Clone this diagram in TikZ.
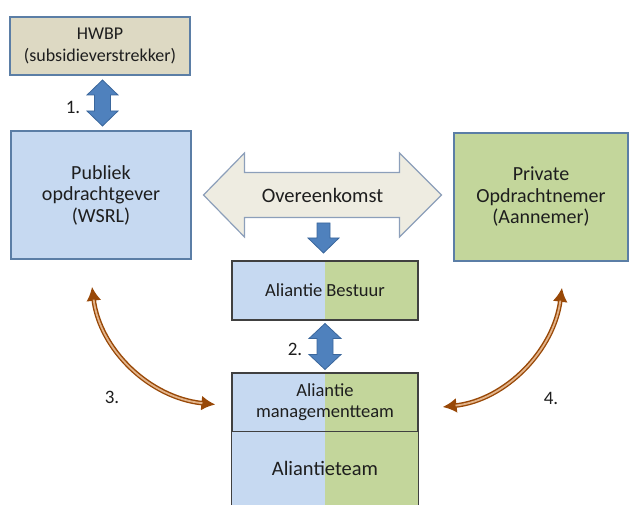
\documentclass[tikz,border=0pt]{standalone}
\usepackage{fontspec}
\setmainfont{Carlito}
\usetikzlibrary{arrows.meta, calc}

\definecolor{hwbpgeel}{HTML}{DDD9C3}
\definecolor{publiekblauw}{HTML}{C6D9F1}
\definecolor{privaatgroen}{HTML}{C3D69B}
\definecolor{randblauw}{HTML}{5B7EA6}
\definecolor{randgrijs}{HTML}{404040}
\definecolor{pijlblauw}{HTML}{4F81BD}
\definecolor{pijlrand}{HTML}{3B679C}
\definecolor{akkoordgrijs}{HTML}{EEECE1}
\definecolor{akkoordrand}{HTML}{8C9FBA}
\definecolor{bruin}{HTML}{984807}
\definecolor{lichtbruin}{HTML}{E3B48A}
\definecolor{tekst}{HTML}{1E1E1E}

\begin{document}
\begin{tikzpicture}[x=1pt, y=-1pt,
  blok/.style={draw=randblauw, line width=1.5pt, align=center, inner sep=0pt, text=tekst},
  splitvlak/.style={align=center, inner sep=0pt, text=tekst, minimum width=186pt,
    path picture={
      \fill[publiekblauw] (path picture bounding box.north west) rectangle (path picture bounding box.south);
      \fill[privaatgroen] (path picture bounding box.north) rectangle (path picture bounding box.south east);}},
  splitvak/.style={splitvlak, draw=randgrijs, line width=1.2pt},
  blokpijl/.style={fill=pijlblauw, draw=pijlrand, line width=0.8pt, line join=miter},
  akkoord/.style={fill=akkoordgrijs, draw=akkoordrand, line width=1.2pt, line join=miter},
  kromme/.style={draw=bruin, line width=4.6pt,
    {Latex[length=14pt, width=15pt]}-{Latex[length=14pt, width=15pt]},
    postaction={draw=lichtbruin, line width=1.8pt, arrows=-, shorten <=13pt, shorten >=13pt}},
  nummer/.style={font=\fontsize{19}{21}\selectfont, text=tekst}]
\useasboundingbox (0,0) rectangle (630,505);

\node[blok, fill=hwbpgeel, minimum width=180pt, minimum height=58pt, font=\fontsize{18}{22}\selectfont] (hwbp) at (100,46) {HWBP\\(subsidieverstrekker)};
\node[blok, fill=publiekblauw, minimum width=180pt, minimum height=128pt, font=\fontsize{20}{21.5}\selectfont] (publiek) at (101,195) {Publiek\\opdrachtgever\\(WSRL)};
\node[blok, fill=privaatgroen, minimum width=174pt, minimum height=128pt, font=\fontsize{20}{21.5}\selectfont] (privaat) at (541,197) {Private\\Opdrachtnemer\\(Aannemer)};

\node[splitvak, minimum height=59pt, font=\fontsize{18.5}{22}\selectfont] (bestuur) at (325,290.5) {Aliantie Bestuur};
\node[splitvak, minimum height=59pt, font=\fontsize{18.5}{21}\selectfont] (mt) at (325,402.5) {Aliantie\\managementteam};
\node[splitvlak, minimum height=73pt, font=\fontsize{20.5}{22}\selectfont] (team) at (325,468.5) {Aliantieteam};
\draw[randgrijs, line width=1.2pt] (team.south west) |- (team.north east) -- (team.south east);

\coordinate (akkoord) at ($(publiek.east)!.5!(privaat.west)+(0,-1)$);
\draw[akkoord, shift={(akkoord)}] (-119,0) -- (-78,-42) -- (-78,-22.5) -- (77,-22.5) -- (77,-42) -- (119,0)
  -- (77,42) -- (77,22.5) -- (-78,22.5) -- (-78,42) -- cycle;
\node[font=\fontsize{20.5}{22}\selectfont, text=tekst] (overeenkomst) at (akkoord) {Overeenkomst};

\coordinate (neer) at ($(akkoord)+(1,28)$);
\draw[blokpijl, shift={(neer)}] (-6.5,0) -- (6.5,0) -- (6.5,15) -- (15.5,15) -- (0,30) -- (-15.5,15) -- (-6.5,15) -- cycle;

\coordinate (pijl1) at ($(hwbp.south)!.5!(publiek.north)+(2,0)$);
\draw[blokpijl, shift={(pijl1)}] (0,-23) -- (15.5,-8) -- (8,-8) -- (8,8) -- (15.5,8) -- (0,23)
  -- (-15.5,8) -- (-8,8) -- (-8,-8) -- (-15.5,-8) -- cycle;
\coordinate (pijl2) at ($(bestuur.south)!.5!(mt.north)$);
\draw[blokpijl, shift={(pijl2)}] (0,-23) -- (16,-8) -- (8,-8) -- (8,8) -- (16,8) -- (0,23)
  -- (-16,8) -- (-8,8) -- (-8,-8) -- (-16,-8) -- cycle;

\coordinate (p3) at ($(publiek.south)+(-9,27)$);
\coordinate (m3) at ($(mt.west)+(-16,2)$);
\coordinate (p4) at ($(privaat.south)+(21,26)$);
\coordinate (m4) at ($(mt.east)+(24,4.5)$);
\draw[kromme] (p3) .. controls (100,350) and (150,398) .. (m3);
\draw[kromme] (p4) .. controls (554,350) and (506,400) .. (m4);

\node[nummer] (n1) at (73,107) {1.};
\node[nummer] (n2) at (295,349) {2.};
\node[nummer] (n3) at (112,397) {3.};
\node[nummer] (n4) at (551,398) {4.};
\end{tikzpicture}
\end{document}
